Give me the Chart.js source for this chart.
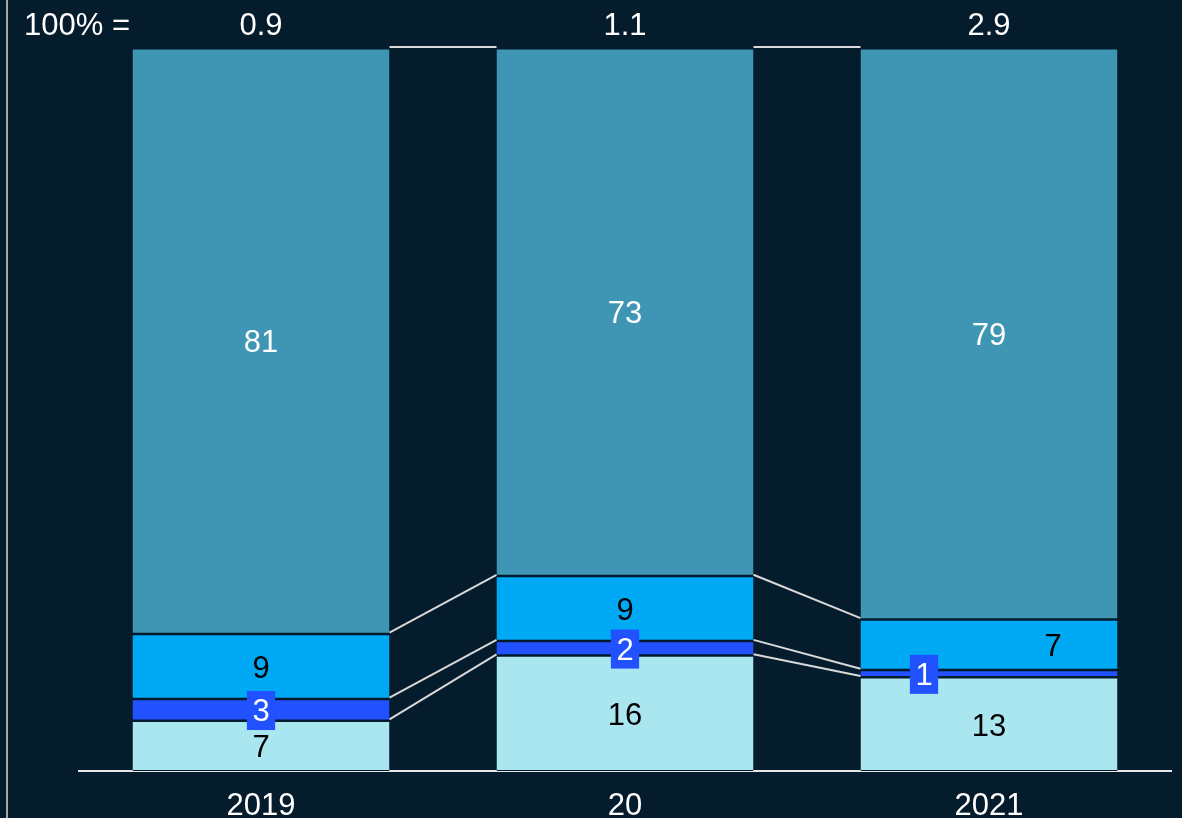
<!DOCTYPE html>
<html><head><meta charset="utf-8">
<script src="https://cdn.jsdelivr.net/npm/chart.js@4"></script>
<style>html,body{margin:0;padding:0;background:#051C2C;overflow:hidden}</style>
</head><body>
<canvas id="c" width="1182" height="818" style="width:1182px;height:818px;display:block"></canvas>
<script>
// ---- data ----
const categories = ['2019', '20', '2021'];
const totals = ['0.9', '1.1', '2.9'];
const totalPrefix = '100% =';
const lightShare = [7, 16, 13];
const darkBlueShare = [3, 2, 1];
const brightBlueShare = [9, 9, 7];
const tealShare = [81, 73, 79];

// ---- styling ----
const FONT = '"Liberation Sans", Arial, sans-serif';
const FS = 31;
const BG = '#051C2C';
const seriesStyle = [
  { data: lightShare, color: '#AAE6F0', text: '#000000', box: null, dx: [0, 0, 0] },
  { data: darkBlueShare, color: '#2251FF', text: '#FFFFFF', box: '#2251FF', dx: [0, 0, -65] },
  { data: brightBlueShare, color: '#00A9F4', text: '#000000', box: null, dx: [0, 0, 64] },
  { data: tealShare, color: '#3F96B4', text: '#FFFFFF', box: null, dx: [0, 0, 0] }
];

const overlay = {
  id: 'overlay',
  afterDatasetsDraw(chart) {
    const ctx = chart.ctx;
    const metas = seriesStyle.map((s, d) => chart.getDatasetMeta(d));
    ctx.save();
    // connectors
    ctx.strokeStyle = '#D9D9D9';
    ctx.lineWidth = 2;
    for (let i = 0; i < categories.length - 1; i++) {
      metas.forEach(m => {
        const a = m.data[i], b = m.data[i + 1];
        ctx.beginPath();
        ctx.moveTo(a.x + a.width / 2, a.y - 1);
        ctx.lineTo(b.x - b.width / 2, b.y - 1);
        ctx.stroke();
      });
    }
    // left frame line
    ctx.lineWidth = 1.5;
    ctx.beginPath();
    ctx.moveTo(7, 0); ctx.lineTo(7, chart.height);
    ctx.stroke();
    // segment labels
    ctx.font = FS + 'px ' + FONT;
    ctx.textAlign = 'center';
    ctx.textBaseline = 'middle';
    seriesStyle.forEach((s, d) => {
      metas[d].data.forEach((el, i) => {
        const x = el.x + s.dx[i];
        const y = (el.y + el.base) / 2 + 1;
        const t = String(s.data[i]);
        if (s.box) {
          const w = ctx.measureText(t).width + 11;
          ctx.fillStyle = s.box;
          ctx.fillRect(x - w / 2, y - 19.5, w, 39);
        }
        ctx.fillStyle = s.text;
        ctx.fillText(t, x, y + 2);
      });
    });
    // totals
    ctx.fillStyle = '#FFFFFF';
    const top = metas[0].data;
    totals.forEach((t, i) => ctx.fillText(t, top[i].x, 26));
    ctx.fillText(totalPrefix, 77, 26);
    ctx.restore();
  }
};

new Chart(document.getElementById('c'), {
  type: 'bar',
  data: {
    labels: categories,
    datasets: seriesStyle.map(s => ({
      data: s.data,
      backgroundColor: s.color,
      borderColor: BG,
      borderWidth: { top: 1.5, bottom: 1, left: 0, right: 0 },
      borderSkipped: false,
      categoryPercentage: 1,
      barPercentage: 0.706
    }))
  },
  options: {
    responsive: false,
    animation: false,
    devicePixelRatio: 1,
    layout: { padding: { top: 48, left: 79, right: 11, bottom: 0 } },
    plugins: { legend: { display: false }, tooltip: { enabled: false } },
    scales: {
      x: {
        stacked: true,
        grid: { display: false },
        border: { display: true, color: '#E6E6E6', width: 2 },
        ticks: { color: '#FFFFFF', font: { family: FONT, size: FS }, padding: 9 },
        afterFit(scale) { scale.height = 47; }
      },
      y: { stacked: true, display: false, min: 0, max: 100 }
    }
  },
  plugins: [overlay]
});
</script>
</body></html>
